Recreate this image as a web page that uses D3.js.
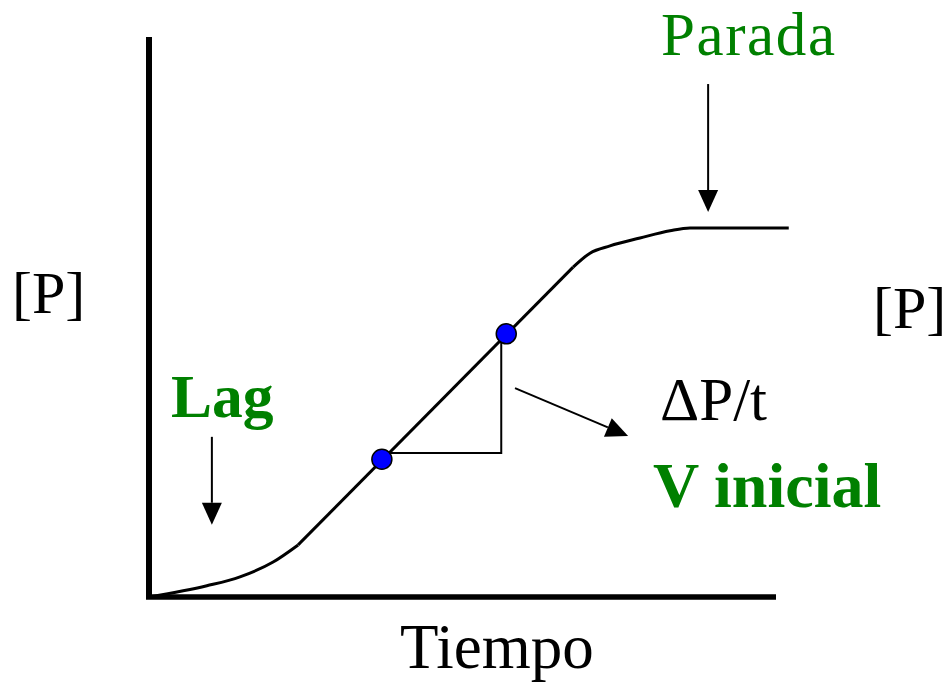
<!DOCTYPE html>
<html><head><meta charset="utf-8">
<script src="https://cdn.jsdelivr.net/npm/d3@7"></script>
<style>body{margin:0;background:#fff}svg{display:block}</style>
</head><body>
<script>
// data units: time 0..100, [P] 0..100
const lagPhase = [[0,0],[9.1,2.0],[14.4,3.6],[19.7,6.25],[23.7,9.3]];
const linearPhase = [[23.7,9.3],[67.7,58.9]];
const plateauPhase = [[67.7,58.9],[70.4,61.4],[73.6,62.7],[78.4,64.1],[83.2,65.4],[86.4,65.9],[102.2,65.9]];
const slopePoints = [[37.1,24.6],[57.0,47.0]];
const triangleCorner = [56.2,25.7];
const arrows = [
  {from:[9.9,28.6], to:[9.9,12.9]},
  {from:[89.3,91.6], to:[89.3,68.75]},
  {from:[58.4,37.3], to:[76.5,28.75]}
];
const labels = [
  {text:"[P]", x:12, y:313, size:60, weight:"normal", color:"#000", ls:0},
  {text:"[P]", x:873, y:328, size:60, weight:"normal", color:"#000", ls:0},
  {text:"Tiempo", x:400, y:668, size:63, weight:"normal", color:"#000", ls:0},
  {text:"Parada", x:661, y:55, size:61, weight:"normal", color:"#008000", ls:1.6},
  {text:"Lag", x:171, y:417, size:61.5, weight:"bold", color:"#008000", ls:0},
  {text:"\u0394P/t", x:660, y:420, size:61, weight:"normal", color:"#000", ls:0},
  {text:"V inicial", x:653, y:507, size:64, weight:"bold", color:"#008000", ls:0}
];

const W=948,H=682;
const svg=d3.select("body").append("svg").attr("width",W).attr("height",H);
const x=d3.scaleLinear().domain([0,100]).range([150,775]);
const y=d3.scaleLinear().domain([0,100]).range([597,37]);

// axes
svg.append("line").attr("x1",x(0)-1).attr("x2",x(0)-1).attr("y1",y(100)).attr("y2",y(0)+2)
  .attr("stroke","#000").attr("stroke-width",6);
svg.append("line").attr("x1",x(0)-4).attr("x2",x(100)+1).attr("y1",y(0)).attr("y2",y(0))
  .attr("stroke","#000").attr("stroke-width",5.5);

const line=d3.line().x(d=>x(d[0])).y(d=>y(d[1])).curve(d3.curveMonotoneX);
[lagPhase,linearPhase,plateauPhase].forEach(seg=>{
  svg.append("path").attr("d",line(seg)).attr("fill","none").attr("stroke","#000")
    .attr("stroke-width",3).attr("stroke-linejoin","round");
});

// triangle
svg.append("path").attr("d",d3.line().x(d=>x(d[0])).y(d=>y(d[1]))([[slopePoints[0][0],triangleCorner[1]],triangleCorner,[triangleCorner[0],slopePoints[1][1]]]))
  .attr("fill","none").attr("stroke","#000").attr("stroke-width",2);

// dots
svg.selectAll("circle").data(slopePoints).join("circle")
  .attr("cx",d=>x(d[0])).attr("cy",d=>y(d[1])).attr("r",10)
  .attr("fill","#0000ff").attr("stroke","#000").attr("stroke-width",1.5);

// arrows
arrows.forEach(a=>{
  const x1=x(a.from[0]),y1=y(a.from[1]),x2=x(a.to[0]),y2=y(a.to[1]);
  const ang=Math.atan2(y2-y1,x2-x1), L=22, hw=10;
  const bx=x2-L*Math.cos(ang), by=y2-L*Math.sin(ang);
  svg.append("line").attr("x1",x1).attr("y1",y1).attr("x2",bx).attr("y2",by)
    .attr("stroke","#000").attr("stroke-width",2);
  const px=-Math.sin(ang), py=Math.cos(ang);
  svg.append("polygon").attr("points",[[x2,y2],[bx+hw*px,by+hw*py],[bx-hw*px,by-hw*py]].map(p=>p.join(",")).join(" "))
    .attr("fill","#000");
});

// labels
svg.selectAll("text").data(labels).join("text")
  .attr("x",d=>d.x).attr("y",d=>d.y).text(d=>d.text)
  .attr("font-family","'Liberation Serif','Times New Roman',serif")
  .attr("letter-spacing",d=>d.ls)
  .attr("font-size",d=>d.size).attr("font-weight",d=>d.weight).attr("fill",d=>d.color);
</script>
</body></html>
